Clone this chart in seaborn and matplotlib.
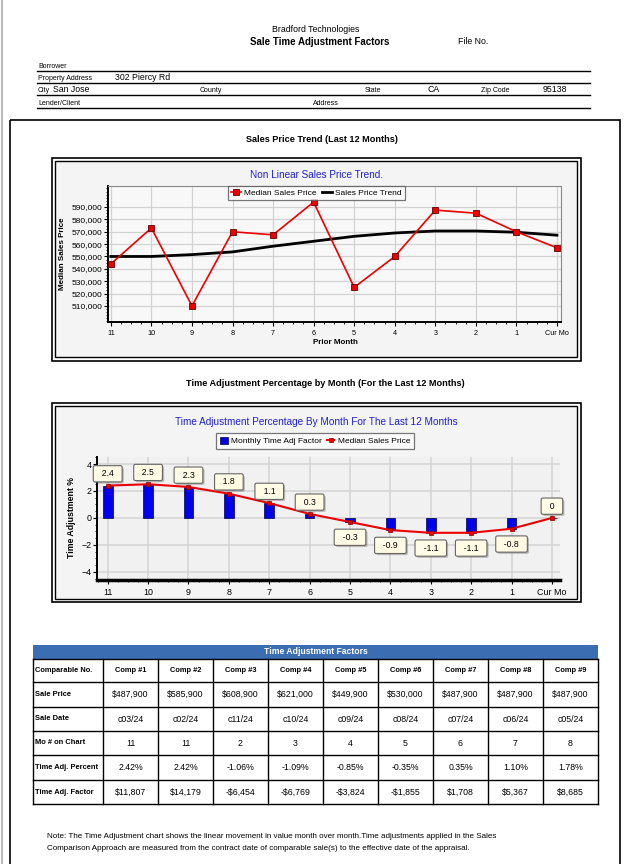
import matplotlib
matplotlib.use("Agg")
import matplotlib.pyplot as plt
import matplotlib.patheffects as pe
from matplotlib.patches import Rectangle
from matplotlib.ticker import FuncFormatter, MultipleLocator
import pandas as pd
import seaborn as sns

plt.rcParams['font.family'] = ['Liberation Sans', 'DejaVu Sans']
NARROW = ['Liberation Sans Narrow', 'Liberation Sans', 'DejaVu Sans']

# Data
months = ['11', '10', '9', '8', '7', '6', '5', '4', '3', '2', '1', 'Cur Mo']
median_price = [544000, 573000, 510000, 570000, 567500, 594000,
                525000, 550000, 587500, 585000, 570000, 557000]
trend_price = [550000, 550000, 551500, 553700, 558300, 562300,
               566300, 569000, 570600, 570600, 569600, 567200]
adj_pct = [2.4, 2.5, 2.3, 1.8, 1.1, 0.3, -0.3, -0.9, -1.1, -1.1, -0.8, 0]

comps = ['Comp #1', 'Comp #2', 'Comp #3', 'Comp #4', 'Comp #5',
         'Comp #6', 'Comp #7', 'Comp #8', 'Comp #9']
sale_price = ['$487,900', '$585,900', '$608,900', '$621,000', '$449,900',
              '$530,000', '$487,900', '$487,900', '$487,900']
sale_date = ['c03/24', 'c02/24', 'c11/24', 'c10/24', 'c09/24',
             'c08/24', 'c07/24', 'c06/24', 'c05/24']
mo_on_chart = ['11', '11', '2', '3', '4', '5', '6', '7', '8']
adj_percent = ['2.42%', '2.42%', '-1.06%', '-1.09%', '-0.85%',
               '-0.35%', '0.35%', '1.10%', '1.78%']
adj_factor = ['$11,807', '$14,179', '-$6,454', '-$6,769', '-$3,824',
              '-$1,855', '$1,708', '$5,367', '$8,685']
row_names = ['Sale Price', 'Sale Date', 'Mo # on Chart',
             'Time Adj. Percent', 'Time Adj. Factor']

df = pd.DataFrame({'pos': range(len(months)), 'month': months,
                   'median': median_price, 'trend': trend_price, 'adj': adj_pct})

W, H = 624, 864
fig = plt.figure(figsize=(W / 100, H / 100), dpi=100)


def px_axes(x0, y0, x1, y1):
    return fig.add_axes([x0 / W, 1 - y1 / H, (x1 - x0) / W, (y1 - y0) / H])


# Page layer in pixel coordinates
page = fig.add_axes([0, 0, 1, 1])
page.set_xlim(0, W)
page.set_ylim(H, 0)
page.axis('off')

page.plot([2, 2], [0, H], color='#bbbbbb', lw=1.5)

page.text(316, 30, 'Bradford Technologies', ha='center', va='center', fontsize=6.3)
page.text(320, 42, 'Sale Time Adjustment Factors', ha='center', va='center',
          fontsize=7, fontweight='bold')
page.text(458, 42, 'File No.', va='center', fontsize=6.3)

for y in [71, 83, 95, 108]:
    page.plot([37, 590], [y, y], color='black', lw=1)
lab = dict(va='bottom', fontsize=5, family=NARROW)
val = dict(va='bottom', fontsize=6.3)
page.text(38, 70, 'Borrower', **lab)
page.text(38, 82, 'Property Address', **lab)
page.text(115, 82, '302 Piercy Rd', **val)
page.text(38, 94, 'City', **lab)
page.text(53, 94, 'San Jose', **val)
page.text(200, 94, 'County', **lab)
page.text(365, 94, 'State', **lab)
page.text(427, 94, 'CA', **val)
page.text(481, 94, 'Zip Code', **lab)
page.text(543, 94, '95138', **val)
page.text(38, 107, 'Lender/Client', **lab)
page.text(313, 107, 'Address', **lab)

# Outer box
page.add_patch(Rectangle((9.5, 120), 610.5, 760, fill=False, ec='black', lw=1.2))

# Chart frames (double border)
for (x0, y0, x1, y1) in [(52, 158, 580.5, 360.5), (52, 403, 580.5, 602)]:
    page.add_patch(Rectangle((x0, y0), x1 - x0, y1 - y0, fill=False, ec='black', lw=1.2))
    page.add_patch(Rectangle((x0 + 2.5, y0 + 2.5), x1 - x0 - 6, y1 - y0 - 6,
                             fc='#f4f4f4', ec='black', lw=1))

page.text(322, 140, 'Sales Price Trend (Last 12 Months)', ha='center', va='center',
          fontsize=6.6, fontweight='bold')
page.text(325, 383, 'Time Adjustment Percentage by Month (For the Last 12 Months)',
          ha='center', va='center', fontsize=6.6, fontweight='bold')

page.text(316, 175, 'Non Linear Sales Price Trend.', ha='center', va='center',
          fontsize=7.2, color='#2020d0', family=NARROW)
page.text(316, 422, 'Time Adjustment Percentage By Month For The Last 12 Months',
          ha='center', va='center', fontsize=7.2, color='#2020d0', family=NARROW)
page.text(62, 254, 'Median Sales Price', rotation=90, ha='center', va='center',
          fontsize=5.8, fontweight='bold')
page.text(335, 343, 'Prior Month', ha='center', va='center', fontsize=5.8,
          fontweight='bold')
page.text(72, 518, 'Time Adjustment %', rotation=90, ha='center', va='center',
          fontsize=6.3, fontweight='bold')

# Chart 1: Sales price trend
ax1 = px_axes(108, 186, 561, 322)
ax1.set_facecolor('#f8f8f8')
sns.lineplot(data=df, x='pos', y='median', ax=ax1, color='#ee0000', lw=1.2,
             marker='s', markersize=5, markerfacecolor='#ee0000',
             markeredgecolor='#660000', markeredgewidth=0.6,
             label='Median Sales Price', zorder=3)
sns.lineplot(data=df, x='pos', y='trend', ax=ax1, color='black', lw=2,
             label='Sales Price Trend', zorder=2)
ax1.set_xlim(-0.07, 11.1)
ax1.set_ylim(497000, 607000)
ax1.set_xticks(range(len(months)))
ax1.set_xticklabels(months, fontsize=5.2, family=NARROW)
ax1.set_yticks(range(510000, 600000, 10000))
ax1.yaxis.set_major_formatter(FuncFormatter(lambda v, p: f'{int(v):,}'))
ax1.tick_params(axis='y', labelsize=6, length=3, pad=1)
ax1.tick_params(axis='x', length=3, pad=3)
ax1.xaxis.set_minor_locator(MultipleLocator(0.25))
ax1.yaxis.set_minor_locator(MultipleLocator(2500))
ax1.tick_params(which='minor', length=1.5)
ax1.grid(True, color='#d2d2d2', lw=0.9)
ax1.set_axisbelow(True)
ax1.set_xlabel('')
ax1.set_ylabel('')
for s in ['top', 'right']:
    ax1.spines[s].set_color('#888888')
for s in ['left', 'bottom']:
    ax1.spines[s].set_linewidth(1.4)
leg1 = ax1.legend(loc='upper center', bbox_to_anchor=(0.46, 1.0), ncol=2,
                  fontsize=6, frameon=True, fancybox=False, borderaxespad=0,
                  handlelength=1.2, handletextpad=0.4, columnspacing=0.6,
                  borderpad=0.35)
leg1.get_frame().set_edgecolor('#555555')
leg1.get_frame().set_linewidth(0.9)

# Chart 2: Time adjustment percentage
ax2 = px_axes(97, 457, 560, 580)
ax2.set_facecolor('#f1f1f1')
sns.barplot(data=df, x='pos', y='adj', ax=ax2, native_scale=True, width=0.24,
            color='#0000ee', edgecolor='#000044', linewidth=0.5, errorbar=None,
            saturation=1, label='Monthly Time Adj Factor', zorder=2)
sns.lineplot(data=df, x='pos', y='adj', ax=ax2, color='#ee0000', lw=1.5,
             marker='s', markersize=3.5, markerfacecolor='#ee0000',
             markeredgecolor='#880000', markeredgewidth=0.5,
             label='Median Sales Price', zorder=3)
for p, v in zip(df['pos'], df['adj']):
    off = -11 if v < 0 else 8.5
    t = ax2.annotate(f'  {v:g}  ', (p, v), xytext=(0, off), textcoords='offset points',
                     ha='center', va='center', fontsize=6.2, family=NARROW, zorder=5,
                     bbox=dict(boxstyle='round,pad=0.42,rounding_size=0.2',
                               fc='#fffbe4', ec='#666666', lw=0.8))
    t.get_bbox_patch().set_path_effects([
        pe.SimplePatchShadow(offset=(1.2, -1.2), alpha=0.35), pe.Normal()])
ax2.set_xlim(-0.265, 11.2)
ax2.set_ylim(-4.6, 4.52)
ax2.set_xticks(range(len(months)))
ax2.set_xticklabels(months, fontsize=6.4, family=NARROW)
ax2.set_yticks([-4, -2, 0, 2, 4])
ax2.tick_params(axis='y', labelsize=6.4, length=3, pad=1)
ax2.tick_params(axis='x', length=3, pad=3)
ax2.xaxis.set_minor_locator(MultipleLocator(0.25))
ax2.yaxis.set_minor_locator(MultipleLocator(0.5))
ax2.tick_params(which='minor', length=1.5)
ax2.grid(True, color='#d4d4d4', lw=1.1)
ax2.set_axisbelow(True)
ax2.set_xlabel('')
ax2.set_ylabel('')
ax2.spines['top'].set_visible(False)
ax2.spines['right'].set_visible(False)
ax2.spines['left'].set_linewidth(1.4)
ax2.spines['bottom'].set_linewidth(2.5)
handles, labels = ax2.get_legend_handles_labels()
order = [labels.index('Monthly Time Adj Factor'), labels.index('Median Sales Price')]
leg2 = ax2.legend([handles[i] for i in order], [labels[i] for i in order],
                  loc='upper center', bbox_to_anchor=(0.471, 1.195), ncol=2,
                  fontsize=6, frameon=True, fancybox=False, borderaxespad=0,
                  handlelength=0.9, handleheight=0.9, handletextpad=0.4,
                  columnspacing=0.6, borderpad=0.45)
leg2.get_frame().set_edgecolor('#555555')
leg2.get_frame().set_linewidth(0.9)
leg2.get_frame().set_facecolor('white')

# Table
col_x = [33, 103, 158, 213, 268, 323, 378, 433, 488, 543, 598]
row_y = [659, 682, 707, 731, 755, 780, 804]
page.add_patch(Rectangle((33, 645), 565, 14, fc='#3a6db2', ec='none'))
page.text(315.5, 652, 'Time Adjustment Factors', ha='center', va='center',
          color='white', fontsize=6.2, fontweight='bold')
for y in row_y:
    page.plot([col_x[0], col_x[-1]], [y, y], color='black', lw=1)
for x in col_x:
    page.plot([x, x], [row_y[0], row_y[-1]], color='black', lw=1)

rows = [sale_price, sale_date, mo_on_chart, adj_percent, adj_factor]
mid = [(row_y[i] + row_y[i + 1]) / 2 for i in range(len(row_y) - 1)]
page.text(35, mid[0], 'Comparable No.', va='center', fontsize=5.4, fontweight='bold')
for j, c in enumerate(comps):
    page.text((col_x[j + 1] + col_x[j + 2]) / 2, mid[0], c, ha='center', va='center',
              fontsize=5.4, fontweight='bold')
for i, (name, vals) in enumerate(zip(row_names, rows)):
    page.text(35, mid[i + 1], name, va='center', fontsize=5.4, fontweight='bold')
    for j, v in enumerate(vals):
        page.text((col_x[j + 1] + col_x[j + 2]) / 2, mid[i + 1], v, ha='center',
                  va='center', fontsize=6.3)

page.text(47, 837, 'Note: The Time Adjustment chart shows the linear movement in value '
          'month over month.Time adjustments applied in the Sales', va='center',
          fontsize=5.8)
page.text(47, 849, 'Comparison Approach are measured from the contract date of '
          'comparable sale(s) to the effective date of the appraisal.', va='center',
          fontsize=5.8)

fig.savefig('out.png', dpi=100)
